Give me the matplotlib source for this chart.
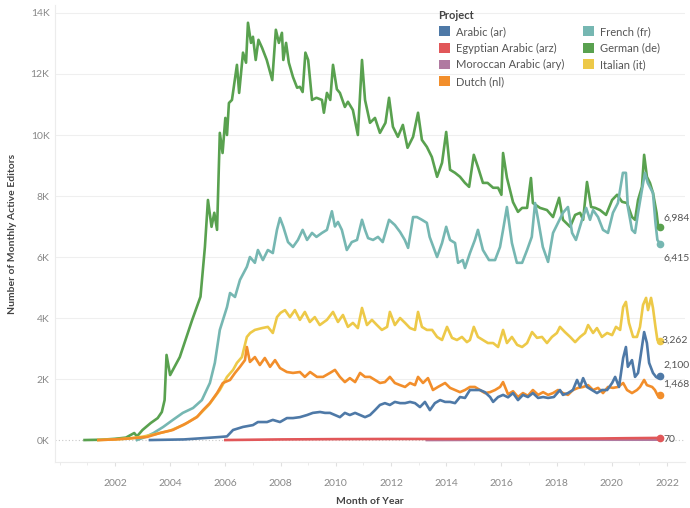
import matplotlib
matplotlib.use('Agg')
from matplotlib import pyplot as plt
from matplotlib.patches import Patch
from matplotlib.ticker import FuncFormatter, MultipleLocator

plt.rcParams['font.family'] = ['Lato', 'DejaVu Sans']

# (decimal year, monthly active editors)
de_pts = [(2000.9, 0), (2001.5, 10), (2002.0, 40), (2002.4, 80), (2002.7, 230), (2002.8, 120),
          (2003.0, 330), (2003.3, 560), (2003.55, 720), (2003.7, 920), (2003.8, 1310), (2003.87, 2790),
          (2004.0, 2130), (2004.35, 2720), (2004.8, 3940), (2005.1, 4700), (2005.26, 6330), (2005.37, 7870),
          (2005.5, 6990), (2005.6, 7450), (2005.7, 6890), (2005.8, 10070), (2005.9, 9410), (2006.0, 10560),
          (2006.06, 10000), (2006.13, 11050), (2006.24, 11150), (2006.42, 12300), (2006.5, 11380),
          (2006.64, 12700), (2006.75, 12370), (2006.82, 13680), (2006.93, 13020), (2007.0, 13220),
          (2007.1, 12460), (2007.2, 13120), (2007.33, 12860), (2007.5, 12460), (2007.7, 11800),
          (2007.83, 13450), (2007.94, 13020), (2008.05, 13350), (2008.1, 12460), (2008.2, 13020),
          (2008.3, 12370), (2008.45, 11900), (2008.6, 11550), (2008.7, 11580), (2008.8, 11410),
          (2008.9, 12700), (2009.0, 12460), (2009.14, 11150), (2009.3, 11220), (2009.5, 11150),
          (2009.57, 10730), (2009.68, 11380), (2009.8, 11150), (2009.9, 12300), (2010.04, 11500),
          (2010.15, 11380), (2010.33, 10920), (2010.44, 11090), (2010.62, 10820), (2010.8, 10000),
          (2010.95, 12460), (2011.06, 11150), (2011.24, 10400), (2011.42, 10560), (2011.6, 10070),
          (2011.8, 10400), (2011.93, 11220), (2012.07, 10270), (2012.25, 9940), (2012.43, 10330),
          (2012.6, 9580), (2012.8, 9940), (2012.98, 10730), (2013.12, 9840), (2013.3, 9610),
          (2013.48, 9280), (2013.67, 8630), (2013.85, 9090), (2014.0, 10100), (2014.14, 8860),
          (2014.32, 8760), (2014.5, 8630), (2014.68, 8430), (2014.83, 8300), (2015.0, 9350),
          (2015.15, 8950), (2015.33, 8430), (2015.5, 8430), (2015.7, 8270), (2015.88, 8270),
          (2016.0, 8040), (2016.06, 9410), (2016.2, 8600), (2016.42, 7800), (2016.6, 7480),
          (2016.75, 7610), (2016.93, 7610), (2017.07, 8590), (2017.14, 7770), (2017.4, 7610),
          (2017.65, 7540), (2017.87, 7310), (2018.09, 7940), (2018.23, 7220), (2018.49, 6990),
          (2018.67, 7380), (2018.85, 7450), (2018.96, 7220), (2019.1, 8460), (2019.25, 7640),
          (2019.4, 7610), (2019.57, 7540), (2019.79, 7380), (2020.01, 7870), (2020.19, 8040),
          (2020.37, 7810), (2020.55, 7770), (2020.73, 7310), (2020.84, 7220), (2020.95, 7870),
          (2021.09, 8300), (2021.17, 9350), (2021.27, 8630), (2021.38, 8430), (2021.49, 8100),
          (2021.62, 7450), (2021.68, 6990), (2021.76, 6984)]

fr_pts = [(2002.8, 0), (2003.1, 100), (2003.4, 230), (2003.75, 430), (2004.1, 660), (2004.46, 890),
          (2004.83, 1050), (2005.15, 1310), (2005.44, 1870), (2005.62, 2530), (2005.8, 3610),
          (2006.06, 4360), (2006.17, 4820), (2006.35, 4690), (2006.53, 5250), (2006.78, 5680),
          (2006.89, 6000), (2007.07, 5810), (2007.18, 6230), (2007.36, 5900), (2007.54, 6230),
          (2007.72, 6130), (2007.87, 6890), (2007.98, 7280), (2008.1, 6990), (2008.27, 6490),
          (2008.45, 6330), (2008.63, 6560), (2008.8, 6890), (2008.96, 6560), (2009.14, 6790),
          (2009.3, 6660), (2009.5, 6790), (2009.68, 6890), (2009.86, 7500), (2009.97, 7000),
          (2010.08, 7150), (2010.22, 6890), (2010.4, 6230), (2010.58, 6490), (2010.77, 6560),
          (2010.95, 7220), (2011.06, 6890), (2011.17, 6620), (2011.35, 6560), (2011.53, 6660),
          (2011.7, 6490), (2011.93, 7220), (2012.14, 7050), (2012.33, 6820), (2012.5, 6560),
          (2012.62, 6300), (2012.8, 7310), (2012.94, 7310), (2013.12, 7220), (2013.3, 7120),
          (2013.4, 6660), (2013.67, 6000), (2013.85, 6460), (2014.0, 6990), (2014.14, 6560),
          (2014.32, 6460), (2014.43, 5810), (2014.6, 5900), (2014.68, 5640), (2014.86, 6130),
          (2015.04, 6560), (2015.15, 6890), (2015.33, 6230), (2015.55, 5900), (2015.77, 5900),
          (2015.95, 6330), (2016.06, 6890), (2016.2, 7640), (2016.38, 6460), (2016.56, 5810),
          (2016.75, 5810), (2016.93, 6230), (2017.1, 6660), (2017.22, 7770), (2017.33, 7220),
          (2017.5, 6330), (2017.69, 5840), (2017.87, 6790), (2018.05, 7120), (2018.23, 7450),
          (2018.41, 7640), (2018.56, 6790), (2018.7, 6560), (2018.92, 7220), (2019.07, 7610),
          (2019.21, 7220), (2019.32, 7540), (2019.5, 7310), (2019.68, 6890), (2019.86, 6790),
          (2020.04, 7450), (2020.22, 7770), (2020.4, 8760), (2020.51, 8760), (2020.58, 7640),
          (2020.73, 6890), (2020.84, 6790), (2020.95, 7450), (2021.09, 8200), (2021.2, 8760),
          (2021.3, 8430), (2021.49, 8100), (2021.58, 7120), (2021.65, 6560), (2021.76, 6415)]

it_pts = [(2001.4, 0), (2002.0, 20), (2002.5, 50), (2003.0, 110), (2003.5, 200), (2004.0, 310),
          (2004.5, 500), (2005.0, 780), (2005.4, 1150), (2005.8, 1640), (2006.06, 2070), (2006.28, 2300),
          (2006.42, 2530), (2006.6, 2720), (2006.78, 3380), (2006.9, 3510), (2007.07, 3610),
          (2007.33, 3670), (2007.54, 3710), (2007.72, 3510), (2007.87, 4030), (2008.0, 4170),
          (2008.16, 4260), (2008.34, 4030), (2008.52, 4260), (2008.7, 3940), (2008.88, 4200),
          (2009.06, 3870), (2009.24, 4030), (2009.42, 3770), (2009.68, 3940), (2009.9, 4200),
          (2010.08, 3870), (2010.26, 4100), (2010.44, 3710), (2010.62, 3840), (2010.8, 3670),
          (2010.95, 4330), (2011.13, 3770), (2011.31, 3940), (2011.49, 3770), (2011.67, 3610),
          (2011.86, 3710), (2011.96, 4200), (2012.14, 3770), (2012.33, 4000), (2012.51, 3840),
          (2012.69, 3670), (2012.87, 3610), (2012.98, 4200), (2013.12, 3710), (2013.3, 3610),
          (2013.49, 3610), (2013.67, 3380), (2013.85, 3280), (2014.03, 3710), (2014.21, 3350),
          (2014.39, 3280), (2014.57, 3380), (2014.75, 3210), (2014.86, 3280), (2015.0, 3710),
          (2015.15, 3380), (2015.33, 3280), (2015.51, 3180), (2015.7, 3180), (2015.88, 3050),
          (2016.06, 3610), (2016.2, 3180), (2016.38, 3380), (2016.57, 3120), (2016.75, 3050),
          (2016.93, 3180), (2017.11, 3540), (2017.29, 3350), (2017.47, 3380), (2017.65, 3180),
          (2017.83, 3380), (2018.01, 3510), (2018.12, 3710), (2018.3, 3540), (2018.49, 3380),
          (2018.67, 3210), (2018.85, 3380), (2019.03, 3510), (2019.14, 3770), (2019.32, 3510),
          (2019.46, 3670), (2019.64, 3380), (2019.83, 3510), (2020.01, 3440), (2020.15, 3710),
          (2020.3, 3610), (2020.41, 4360), (2020.51, 4530), (2020.62, 3840), (2020.77, 3380),
          (2020.91, 3380), (2021.02, 3710), (2021.13, 4430), (2021.24, 4660), (2021.31, 4260),
          (2021.42, 4660), (2021.49, 4330), (2021.58, 3710), (2021.65, 3280), (2021.76, 3262)]

nl_pts = [(2001.4, 0), (2002.0, 20), (2002.5, 50), (2003.16, 100), (2003.63, 230), (2004.1, 330),
          (2004.61, 560), (2004.97, 750), (2005.19, 980), (2005.44, 1210), (2005.7, 1540),
          (2005.91, 1870), (2006.17, 1970), (2006.35, 2200), (2006.53, 2400), (2006.71, 2620),
          (2006.78, 3050), (2006.89, 2560), (2007.07, 2720), (2007.25, 2460), (2007.43, 2690),
          (2007.62, 2400), (2007.8, 2620), (2007.98, 2360), (2008.23, 2230), (2008.45, 2200),
          (2008.7, 2230), (2008.88, 2070), (2009.07, 2230), (2009.32, 2070), (2009.54, 2070),
          (2009.79, 2200), (2009.97, 2300), (2010.15, 2070), (2010.33, 1900), (2010.51, 2030),
          (2010.7, 1900), (2010.88, 2200), (2011.06, 2070), (2011.24, 2070), (2011.42, 1970),
          (2011.6, 1870), (2011.78, 1900), (2011.96, 2070), (2012.14, 1870), (2012.33, 1800),
          (2012.51, 1740), (2012.69, 1870), (2012.87, 1800), (2012.98, 2070), (2013.16, 1870),
          (2013.34, 2030), (2013.52, 1640), (2013.7, 1740), (2013.96, 1870), (2014.14, 1710),
          (2014.32, 1640), (2014.5, 1570), (2014.68, 1640), (2014.86, 1740), (2015.04, 1740),
          (2015.22, 1640), (2015.4, 1540), (2015.59, 1570), (2015.77, 1640), (2015.95, 1740),
          (2016.06, 1900), (2016.24, 1500), (2016.42, 1600), (2016.6, 1410), (2016.78, 1540),
          (2016.96, 1450), (2017.14, 1640), (2017.33, 1480), (2017.51, 1570), (2017.69, 1480),
          (2017.87, 1540), (2018.05, 1640), (2018.23, 1540), (2018.41, 1480), (2018.59, 1640),
          (2018.78, 1710), (2018.96, 1740), (2019.14, 1800), (2019.32, 1640), (2019.5, 1710),
          (2019.68, 1540), (2019.86, 1740), (2020.04, 1710), (2020.22, 1740), (2020.41, 1870),
          (2020.55, 1640), (2020.73, 1540), (2020.91, 1640), (2021.02, 1740), (2021.17, 1970),
          (2021.27, 1800), (2021.46, 1740), (2021.56, 1640), (2021.65, 1480), (2021.76, 1468)]

ar_pts = [(2003.27, 0), (2004.5, 20), (2005.33, 70), (2005.8, 100), (2006.06, 120), (2006.28, 330),
          (2006.64, 430), (2007.0, 490), (2007.18, 590), (2007.51, 590), (2007.72, 660), (2007.98, 590),
          (2008.23, 720), (2008.45, 720), (2008.7, 750), (2008.96, 820), (2009.17, 890), (2009.43, 920),
          (2009.61, 890), (2009.79, 890), (2009.97, 820), (2010.15, 750), (2010.33, 890), (2010.51, 820),
          (2010.7, 890), (2010.88, 820), (2011.06, 750), (2011.24, 820), (2011.42, 980), (2011.6, 1150),
          (2011.78, 1210), (2011.96, 1150), (2012.14, 1250), (2012.33, 1210), (2012.51, 1210),
          (2012.69, 1250), (2012.87, 1210), (2013.05, 1080), (2013.23, 1250), (2013.41, 980),
          (2013.59, 1210), (2013.78, 1310), (2013.96, 1250), (2014.14, 1250), (2014.32, 1210),
          (2014.5, 1410), (2014.68, 1380), (2014.86, 1640), (2015.04, 1640), (2015.22, 1640),
          (2015.4, 1570), (2015.59, 1410), (2015.7, 1250), (2015.88, 1410), (2016.06, 1480),
          (2016.24, 1400), (2016.42, 1540), (2016.6, 1310), (2016.78, 1480), (2016.96, 1410),
          (2017.14, 1540), (2017.33, 1380), (2017.51, 1410), (2017.69, 1380), (2017.9, 1410),
          (2018.12, 1640), (2018.23, 1480), (2018.41, 1540), (2018.59, 1640), (2018.74, 1970),
          (2018.85, 1740), (2018.96, 2030), (2019.1, 1740), (2019.28, 1640), (2019.46, 1540),
          (2019.64, 1640), (2019.83, 1640), (2020.01, 1870), (2020.12, 2070), (2020.26, 1740),
          (2020.41, 2690), (2020.51, 3050), (2020.58, 2400), (2020.73, 2620), (2020.84, 2070),
          (2020.95, 2200), (2021.09, 3050), (2021.17, 3540), (2021.27, 3180), (2021.35, 2530),
          (2021.49, 2200), (2021.6, 2070), (2021.68, 2030), (2021.76, 2100)]

arz_pts = [(2006.0, 0), (2007.0, 10), (2008.0, 20), (2010.0, 30), (2012.0, 35), (2014.0, 35),
           (2016.0, 40), (2018.0, 45), (2019.5, 50), (2020.5, 60), (2021.76, 70)]

ary_pts = [(2013.3, 0), (2015.0, 5), (2017.0, 8), (2019.0, 10), (2021.76, 12)]

projects = ['Arabic (ar)', 'Egyptian Arabic (arz)', 'Moroccan Arabic (ary)', 'Dutch (nl)',
            'French (fr)', 'German (de)', 'Italian (it)']
colors = ['#4e79a7', '#e15759', '#b07aa1', '#f28e2b', '#76b7b2', '#59a14f', '#edc948']
end_labels = ['2,100', '70', None, '1,468', '6,415', '6,984', '3,262']
label_offsets = [(2, 8), (2, -1), (0, 0), (2, 8), (2, -10), (2, 6), (0.5, 0)]

series = [ar_pts, arz_pts, ary_pts, nl_pts, fr_pts, de_pts, it_pts]
draw_order = [5, 4, 6, 3, 2, 1, 0]

fig = plt.figure(figsize=(6.9, 5.08), dpi=100)
ax = fig.add_axes([55 / 690, 1 - 462 / 508, 630 / 690, 457 / 508])

for i in draw_order:
    xs, ys = zip(*series[i])
    ax.plot(xs, ys, color=colors[i], lw=1.9, solid_joinstyle='round', zorder=3)
    if end_labels[i]:
        ax.plot(xs[-1], ys[-1], 'o', color=colors[i], ms=4.5, zorder=4)
        ax.annotate(end_labels[i], (xs[-1], ys[-1]), xytext=label_offsets[i],
                    textcoords='offset points', ha='left', va='center',
                    fontsize=7.5, color='#555555', zorder=5)

ax.set_xlim(1999.83, 2022.65)
ax.set_ylim(-720, 14262)
ax.set_xticks(range(2002, 2023, 2))
ax.xaxis.set_minor_locator(MultipleLocator(1))
ax.set_yticks(range(0, 14001, 2000))
ax.yaxis.set_major_formatter(FuncFormatter(lambda v, p: f'{v / 1000:.0f}K'))
ax.tick_params(axis='x', which='major', length=3, color='#e0e0e0', pad=9, labelsize=7.5, labelcolor='#888888')
ax.tick_params(axis='x', which='minor', length=2, color='#e8e8e8')
ax.tick_params(axis='y', length=0, pad=4, labelsize=7.5, labelcolor='#888888')

for y in range(2000, 14001, 2000):
    ax.axhline(y, color='#efefef', lw=0.8, zorder=1)
ax.axhline(0, color='#c8c8c8', lw=0.8, ls=(0, (1, 2)), zorder=1)

for s in ['top', 'right']:
    ax.spines[s].set_visible(False)
ax.spines['left'].set_color('#ececec')
ax.spines['bottom'].set_color('#ececec')

ax.set_xlabel('Month of Year', fontsize=7.5, fontweight='bold', color='#444444', labelpad=7)
ax.set_ylabel('Number of Monthly Active Editors', fontsize=7.5, fontweight='bold', color='#444444')
ax.yaxis.set_label_coords(-38 / 630, 0.5)

handles = [Patch(facecolor=c, edgecolor='none') for c in colors]
leg = fig.legend(handles, projects, loc='upper left', bbox_to_anchor=(433 / 690, 1 - 4 / 508),
                 ncol=2, frameon=False, title='Project', fontsize=8, title_fontsize=8,
                 handlelength=1.0, handleheight=1.0, handletextpad=0.55, labelspacing=0.5,
                 columnspacing=1.7, borderpad=0, alignment='left')
leg.get_title().set_fontweight('bold')
leg.get_title().set_color('#444444')
for t in leg.get_texts():
    t.set_color('#555555')

fig.savefig('out.png', dpi=100)
